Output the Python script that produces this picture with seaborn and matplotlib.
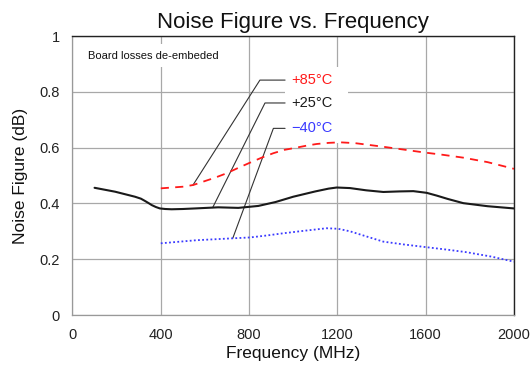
import matplotlib
matplotlib.use("Agg")
import matplotlib.pyplot as plt
import seaborn as sns
import pandas as pd
from matplotlib.patches import Rectangle

# ---- data ----
freq_25 = [100, 193, 283, 310, 328, 345, 359, 378, 396, 420, 449, 500, 555, 660, 751, 842,
           920, 1000, 1100, 1160, 1197, 1257, 1330, 1408, 1480, 1544, 1604, 1650, 1700, 1770, 1880, 2000]
nf_25 = [0.456, 0.442, 0.424, 0.417, 0.409, 0.401, 0.394, 0.387, 0.382, 0.380, 0.379, 0.380, 0.382, 0.386, 0.384, 0.391,
         0.405, 0.424, 0.443, 0.453, 0.457, 0.455, 0.447, 0.441, 0.443, 0.444, 0.438, 0.428, 0.416, 0.401, 0.390, 0.382]

freq_85 = [400, 502, 547, 592, 645, 698, 750, 804, 860, 910, 960, 1015, 1060, 1106, 1160, 1212, 1280,
           1340, 1408, 1500, 1589, 1680, 1770, 1880, 2000]
nf_85 = [0.454, 0.460, 0.466, 0.478, 0.492, 0.508, 0.527, 0.546, 0.565, 0.580, 0.592, 0.600, 0.607, 0.613, 0.617, 0.619, 0.616,
         0.610, 0.603, 0.593, 0.583, 0.574, 0.564, 0.548, 0.524]

freq_m40 = [400, 560, 728, 804, 880, 955, 1050, 1151, 1204, 1257, 1330, 1408, 1500, 1604, 1700, 1786, 1900, 2000]
nf_m40 = [0.257, 0.268, 0.275, 0.278, 0.285, 0.293, 0.302, 0.311, 0.309, 0.300, 0.282, 0.263, 0.253, 0.243, 0.234, 0.225, 0.209, 0.191]

series_labels = ["+85°C", "+25°C", "\u221240°C"]
series_colors = ["#ff1a1a", "#1a1a1a", "#3a3aff"]

# leader lines: [text start, corner, point on curve]
lead_x = [[963, 849, 546], [963, 872, 635], [963, 910, 726]]
lead_y = [[0.842, 0.842, 0.466], [0.760, 0.760, 0.385], [0.669, 0.669, 0.275]]

x_ticks = [0, 400, 800, 1200, 1600, 2000]
y_ticks = [0, 0.2, 0.4, 0.6, 0.8, 1.0]
y_tick_labels = ["0", "0.2", "0.4", "0.6", "0.8", "1"]

# ---- figure ----
sns.set_style("white")
plt.rcParams["font.family"] = ["Liberation Sans", "DejaVu Sans"]

fig = plt.figure(figsize=(5.31, 3.66), dpi=100)
ax = fig.add_axes([0.1365, 0.1393, 0.8315, 0.7623])

df85 = pd.DataFrame({"f": freq_85, "nf": nf_85})
df25 = pd.DataFrame({"f": freq_25, "nf": nf_25})
dfm40 = pd.DataFrame({"f": freq_m40, "nf": nf_m40})

sns.lineplot(data=df85, x="f", y="nf", ax=ax, color=series_colors[0], lw=1.3,
             linestyle=(0, (4.5, 3.5)), zorder=4)
sns.lineplot(data=df25, x="f", y="nf", ax=ax, color=series_colors[1], lw=1.5, zorder=4)
sns.lineplot(data=dfm40, x="f", y="nf", ax=ax, color=series_colors[2], lw=1.3,
             linestyle=(0, (1, 1.3)), zorder=4)

ax.set_xlim(0, 2000)
ax.set_ylim(0, 1)
ax.set_xticks(x_ticks)
ax.set_yticks(y_ticks)
ax.set_yticklabels(y_tick_labels)
ax.tick_params(axis="both", length=0, pad=9, labelsize=10.5, labelcolor="#222222")

ax.grid(True, color="#a8a8a8", lw=0.9, zorder=0)
ax.set_axisbelow(True)
for s in ["left", "bottom"]:
    ax.spines[s].set_color("#999999")
    ax.spines[s].set_linewidth(0.9)
for s in ["top", "right"]:
    ax.spines[s].set_color("#222222")
    ax.spines[s].set_linewidth(1.0)

ax.set_xlabel("Frequency (MHz)", fontsize=12.5, labelpad=3, color="#111111")
ax.set_ylabel("Noise Figure (dB)", fontsize=12.5, labelpad=8, color="#111111")
ax.set_title("Noise Figure vs. Frequency", fontsize=16, pad=6, color="#111111")

# white box behind the labels
ax.add_patch(Rectangle((963, 0.616), 285, 0.272, facecolor="white",
                       edgecolor="none", zorder=1))

ax.text(70, 0.93, "Board losses de-embeded", fontsize=8, color="#111111",
        va="center", ha="left", zorder=3,
        bbox=dict(facecolor="white", edgecolor="none", pad=5))

for lx, ly, lab, col in zip(lead_x, lead_y, series_labels, series_colors):
    ax.plot(lx, ly, color="#333333", lw=0.8, zorder=3)
    ax.text(lx[0] + 30, ly[0], lab, color=col, fontsize=10.5, va="center",
            ha="left", zorder=5)

fig.savefig("out.png", dpi=100)
